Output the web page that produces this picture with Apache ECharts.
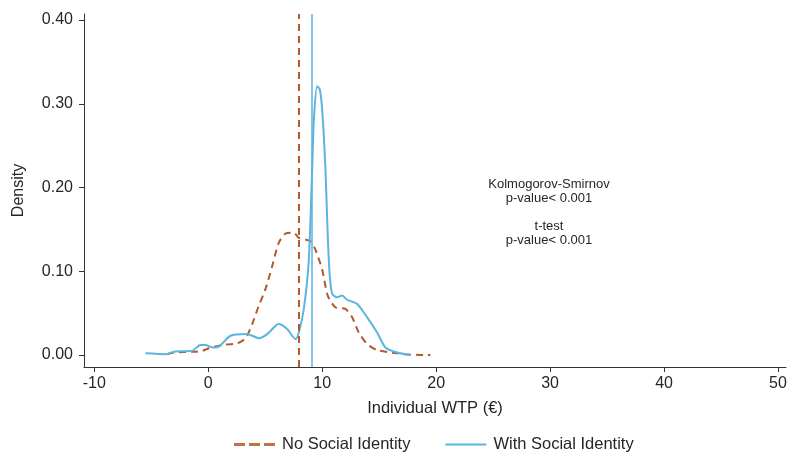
<!DOCTYPE html>
<html>
<head>
<meta charset="utf-8">
<script src="https://cdn.jsdelivr.net/npm/echarts@6/dist/echarts.min.js"></script>
<style>
  html, body { margin: 0; padding: 0; background: #fff; }
  #chart { width: 790px; height: 454px; }
</style>
</head>
<body>
<div id="chart"></div>
<script>
// Kernel density of individual WTP, by treatment
const wtpNoSI = [-3.6, -3.0, -1.26, -0.53, 0.05, 1.23, 2.54, 3.27, 3.86, 4.44, 5.03, 5.61, 6.19, 6.78, 7.51, 7.95, 8.97, 9.4, 10.0, 10.49, 11.16, 12.04, 12.63, 13.21, 13.95, 14.82, 16.58, 17.75, 19.5];
const densNoSI = [0.001, 0.003, 0.004, 0.005, 0.008, 0.012, 0.014, 0.020, 0.037, 0.059, 0.079, 0.106, 0.134, 0.145, 0.146, 0.140, 0.136, 0.126, 0.102, 0.071, 0.057, 0.055, 0.045, 0.027, 0.013, 0.006, 0.002, 0.0004, 0.0];

const wtpWithSI = [-5.5, -3.7, -3.0, -1.4, -0.7, -0.24, 0.35, 0.93, 1.96, 3.27, 3.86, 4.44, 5.18, 6.19, 6.93, 7.66, 7.95, 8.39, 8.82, 9.12, 9.27, 9.56, 9.79, 10.0, 10.29, 10.49, 10.67, 10.88, 11.32, 11.75, 12.19, 13.07, 13.95, 14.82, 15.55, 16.58, 17.75];
const densWithSI = [0.002, 0.001, 0.004, 0.005, 0.012, 0.012, 0.009, 0.010, 0.023, 0.025, 0.023, 0.020, 0.025, 0.037, 0.031, 0.019, 0.027, 0.055, 0.112, 0.221, 0.281, 0.321, 0.317, 0.293, 0.221, 0.142, 0.094, 0.073, 0.069, 0.071, 0.066, 0.061, 0.045, 0.027, 0.009, 0.003, 0.000];

// Group means (vertical reference lines)
const meanNoSI = 7.95;
const meanWithSI = 9.12;

const xTicks = [-10, 0, 10, 20, 30, 40, 50];
const yTicks = [0, 0.1, 0.2, 0.3, 0.4];

const seriesNames = ['No Social Identity', 'With Social Identity'];
const annotation = ['Kolmogorov-Smirnov', 'p-value< 0.001', '', 't-test', 'p-value< 0.001'];

const ORANGE = '#B5582C';
const BLUE = '#5BB5E0';
const FONT = 'Liberation Sans, Arial, sans-serif';
const INK = '#262626';

// Legend keys: a dashed stroke and a solid stroke
const DASH_ICON = 'path://M0,0h11v3h-11z M15,0h11v3h-11z M30,0h11v3h-11z';
const SOLID_ICON = 'path://M0,0h41v2h-41z';

const pairs = (xs, ys) => xs.map((x, i) => [x, ys[i]]);

const chart = echarts.init(document.getElementById('chart'));
chart.setOption({
  animation: false,
  backgroundColor: '#fff',
  textStyle: { fontFamily: FONT },
  grid: { left: 84, right: 4, top: 14, bottom: 87, containLabel: false },
  xAxis: {
    type: 'value',
    min: -10.9, max: 50.7,
    name: 'Individual WTP (€)',
    nameLocation: 'middle',
    nameGap: 33,
    nameTextStyle: { fontSize: 16.5, color: INK, fontFamily: FONT },
    axisLine: { show: true, onZero: false, lineStyle: { color: '#333', width: 1 } },
    axisTick: { show: true, length: 5, customValues: xTicks, lineStyle: { color: '#333' } },
    axisLabel: { customValues: xTicks, fontSize: 16, color: INK, margin: 9, fontFamily: FONT },
    splitLine: { show: false }
  },
  yAxis: {
    type: 'value',
    min: -0.0143, max: 0.4072,
    name: 'Density',
    nameLocation: 'middle',
    nameRotate: 90,
    nameGap: 57,
    nameTextStyle: { fontSize: 16, color: INK, fontFamily: FONT },
    axisLine: { show: true, onZero: false, lineStyle: { color: '#333', width: 1 } },
    axisTick: { show: true, length: 5, customValues: yTicks, lineStyle: { color: '#333' } },
    axisLabel: { customValues: yTicks, fontSize: 16, color: INK, margin: 11, fontFamily: FONT,
                 formatter: v => v.toFixed(2) },
    splitLine: { show: false }
  },
  legend: {
    top: 431,
    left: 229,
    itemWidth: 41,
    itemHeight: 3,
    itemGap: 35,
    textStyle: { fontSize: 16.5, color: INK, fontFamily: FONT, padding: [0, 0, 0, 2] },
    data: [
      { name: seriesNames[0], icon: DASH_ICON, itemStyle: { color: ORANGE, opacity: 0.85 } },
      { name: seriesNames[1], icon: SOLID_ICON, itemStyle: { color: BLUE } }
    ]
  },
  series: [
    {
      name: seriesNames[0],
      type: 'line',
      data: pairs(wtpNoSI, densNoSI),
      smooth: 0.25,
      symbol: 'none',
      color: ORANGE,
      lineStyle: { color: ORANGE, width: 2, type: [7, 5] },
      markLine: {
        silent: true,
        symbol: 'none',
        label: { show: false },
        lineStyle: { color: ORANGE, width: 2, type: [7, 5] },
        data: [{ xAxis: meanNoSI }]
      },
      z: 3
    },
    {
      name: seriesNames[1],
      type: 'line',
      data: pairs(wtpWithSI, densWithSI),
      smooth: 0.25,
      symbol: 'none',
      color: BLUE,
      lineStyle: { color: BLUE, width: 2, type: 'solid' },
      markLine: {
        silent: true,
        symbol: 'none',
        label: { show: false },
        lineStyle: { color: BLUE, width: 1.5, type: 'solid' },
        data: [{ xAxis: meanWithSI }]
      },
      z: 4
    }
  ],
  graphic: [{
    type: 'text',
    x: 549,
    y: 177,
    style: {
      text: annotation.join('\n'),
      align: 'center',
      verticalAlign: 'top',
      fontSize: 13,
      lineHeight: 14,
      fill: INK,
      fontFamily: FONT
    }
  }]
});
</script>
</body>
</html>
